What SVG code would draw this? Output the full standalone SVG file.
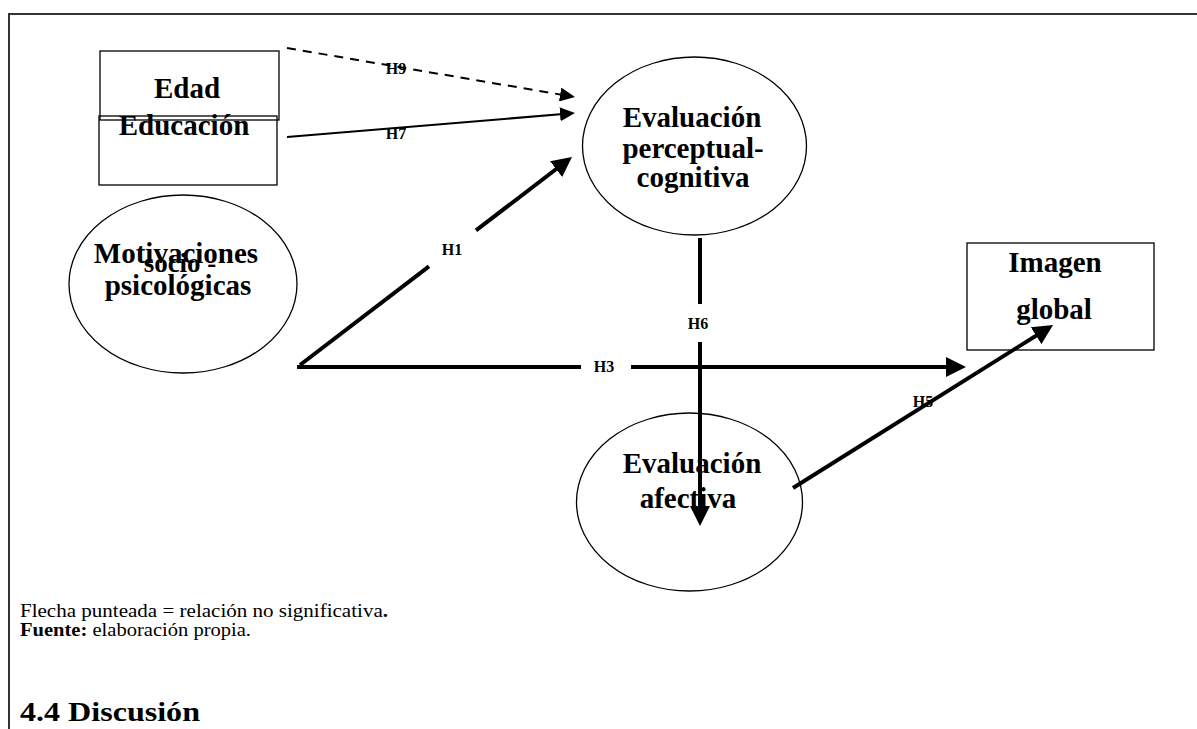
<svg xmlns="http://www.w3.org/2000/svg" width="1197" height="729" viewBox="0 0 1197 729">
  <defs>
    <style>
      .frame { stroke: #333; stroke-width: 2; fill: none; }
      .node { fill: #fff; stroke: #000; stroke-width: 1.3; }
      .lbl { font-family: "Liberation Serif", "Times New Roman", serif; font-weight: bold; font-size: 29px; fill: #000; text-anchor: middle; }
      .hyp { font-family: "Liberation Serif", "Times New Roman", serif; font-weight: bold; font-size: 16px; fill: #000; text-anchor: middle; }
      .thick { stroke: #000; stroke-width: 4; fill: none; }
      .thin { stroke: #000; stroke-width: 2; fill: none; }
      .dash { stroke-dasharray: 9 7; }
      .note { font-family: "Liberation Serif", "Times New Roman", serif; font-size: 19px; fill: #000; }
      .heading { font-family: "Liberation Serif", "Times New Roman", serif; font-size: 28px; font-weight: bold; fill: #000; }
    </style>
    <marker id="bigHead" markerUnits="userSpaceOnUse" markerWidth="20" markerHeight="20" refX="15" refY="10" orient="auto">
      <path d="M0,0 L20,10 L0,20 z" fill="#000"/>
    </marker>
    <marker id="smallHead" markerUnits="userSpaceOnUse" markerWidth="15" markerHeight="14" refX="12" refY="7" orient="auto">
      <path d="M0,0 L15,7 L0,14 z" fill="#000"/>
    </marker>
  </defs>

  <rect width="1197" height="729" fill="#fff"/>

  <!-- page frame -->
  <g id="frame">
    <line class="frame" x1="8" y1="14" x2="1197" y2="14"/>
    <line class="frame" x1="9" y1="14" x2="9" y2="729"/>
  </g>

  <!-- nodes -->
  <g id="edad">
    <rect class="node" x="100" y="51" width="179" height="69"/>
    <text class="lbl" x="187" y="98">Edad</text>
  </g>
  <g id="educacion">
    <rect class="node" x="99" y="116" width="178" height="69" style="fill:none"/>
    <text class="lbl" x="184" y="135">Educación</text>
  </g>
  <g id="motivaciones">
    <ellipse class="node" cx="183" cy="284" rx="114" ry="89"/>
    <text class="lbl" x="176" y="263">Motivaciones</text>
    <text class="lbl" x="180" y="272" style="font-size:27px">socio -</text>
    <text class="lbl" x="178" y="295">psicológicas</text>
  </g>
  <g id="eval-cognitiva">
    <ellipse class="node" cx="694.5" cy="146" rx="112" ry="89"/>
    <text class="lbl" x="692" y="127">Evaluación</text>
    <text class="lbl" x="693" y="158">perceptual-</text>
    <text class="lbl" x="693" y="187">cognitiva</text>
  </g>
  <g id="imagen-global">
    <rect class="node" x="967" y="243" width="187" height="107"/>
    <text class="lbl" x="1055" y="272">Imagen</text>
    <text class="lbl" x="1054" y="319">global</text>
  </g>
  <g id="eval-afectiva">
    <ellipse class="node" cx="689.5" cy="502" rx="113" ry="89"/>
    <text class="lbl" x="692" y="473">Evaluación</text>
    <text class="lbl" x="688" y="508">afectiva</text>
  </g>

  <!-- connectors -->
  <g id="connectors">
    <line class="thin dash" x1="287" y1="48" x2="572" y2="96.5" marker-end="url(#smallHead)"/>
    <line class="thin" x1="287" y1="137" x2="572" y2="113.3" marker-end="url(#smallHead)"/>
    <line class="thick" x1="300" y1="365" x2="429" y2="266.4"/>
    <line class="thick" x1="476" y1="230.4" x2="568" y2="160" marker-end="url(#bigHead)"/>
    <line class="thick" x1="297" y1="367" x2="581" y2="367"/>
    <line class="thick" x1="631" y1="367" x2="961" y2="367" marker-end="url(#bigHead)"/>
    <line class="thick" x1="700" y1="238" x2="700" y2="304"/>
    <line class="thick" x1="700" y1="342" x2="700" y2="521" marker-end="url(#bigHead)"/>
    <line class="thick" x1="793" y1="488" x2="1048.8" y2="327.7" marker-end="url(#bigHead)"/>
  </g>

  <!-- hypothesis labels -->
  <g id="labels">
    <text class="hyp" x="396" y="74">H9</text>
    <text class="hyp" x="396" y="139">H7</text>
    <text class="hyp" x="452" y="255">H1</text>
    <text class="hyp" x="698" y="329">H6</text>
    <text class="hyp" x="604" y="372">H3</text>
    <text class="hyp" x="923" y="407">H5</text>
  </g>

  <!-- notes -->
  <g id="notes">
    <text class="note" x="20" y="617" textLength="368" lengthAdjust="spacingAndGlyphs">Flecha punteada = relación no significativa<tspan font-weight="bold">.</tspan></text>
    <text class="note" x="20" y="636" textLength="231" lengthAdjust="spacingAndGlyphs"><tspan font-weight="bold">Fuente:</tspan> elaboración propia.</text>
    <text class="heading" x="20" y="721" textLength="180" lengthAdjust="spacingAndGlyphs">4.4 Discusión</text>
  </g>
</svg>
